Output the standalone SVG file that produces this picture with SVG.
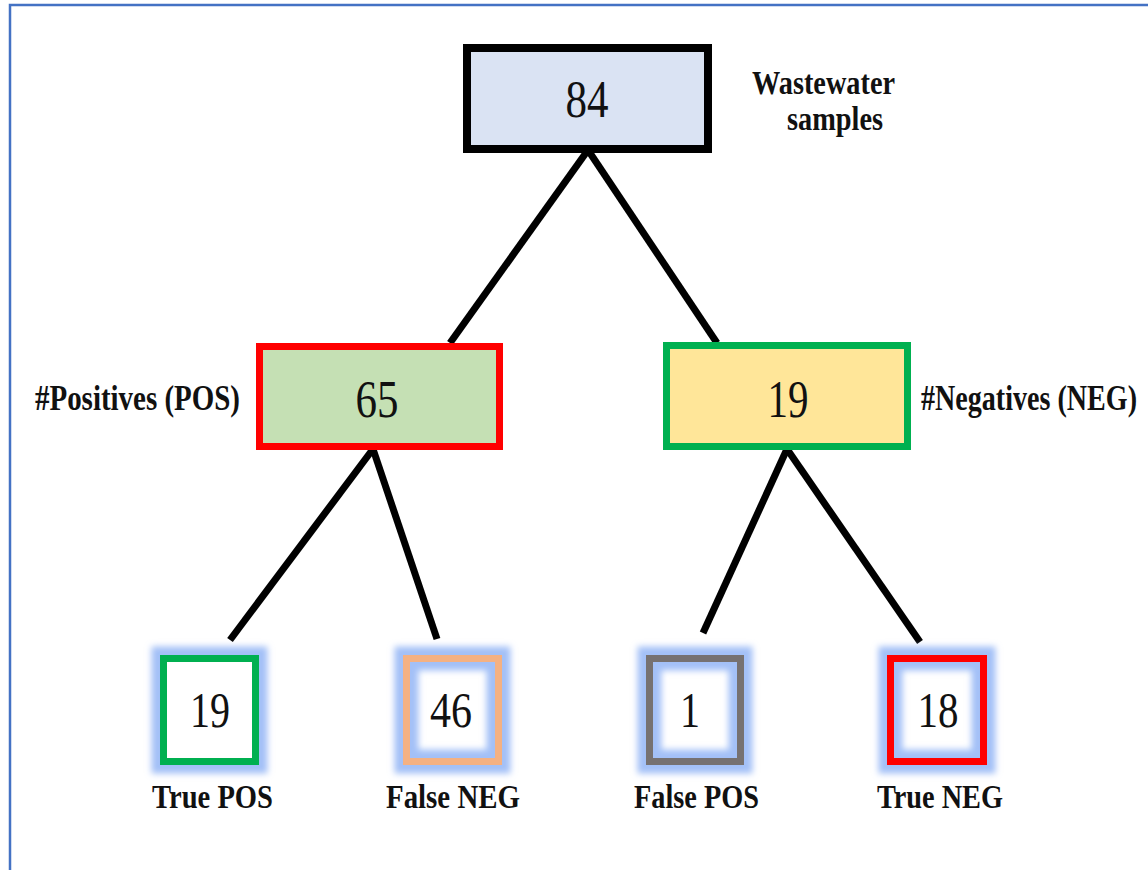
<svg xmlns="http://www.w3.org/2000/svg" width="1148" height="870" viewBox="0 0 1148 870">
  <defs>
    <filter id="glow" x="-30%" y="-30%" width="160%" height="160%">
      <feGaussianBlur stdDeviation="3"/>
    </filter>
    <style>
      .num { font-family: "Liberation Serif", "Times New Roman", serif; fill: #111; text-anchor: middle; }
      .lbl { font-family: "Liberation Serif", "Times New Roman", serif; font-weight: bold; fill: #111; }
      .conn { stroke: #000; stroke-width: 7; fill: none; stroke-linecap: butt; }
      .halo { fill: none; stroke: #a3c0f7; stroke-width: 24; filter: url(#glow); }
    </style>
  </defs>
  <rect width="1148" height="870" fill="#fff"/>
  <path d="M10,870 V5 H1148" fill="none" stroke="#4472C4" stroke-width="2.5"/>

  <g id="connectors">
    <line class="conn" x1="588" y1="150" x2="450" y2="343"/>
    <line class="conn" x1="588" y1="150" x2="717" y2="343"/>
    <line class="conn" x1="373" y1="449" x2="230" y2="640"/>
    <line class="conn" x1="373" y1="449" x2="437" y2="639"/>
    <line class="conn" x1="787" y1="449" x2="703" y2="633"/>
    <line class="conn" x1="787" y1="449" x2="920" y2="642"/>
  </g>

  <g id="node-total">
    <rect x="467" y="48" width="241" height="101" fill="#DAE3F3" stroke="#000" stroke-width="8"/>
    <text class="num" x="587" y="117" font-size="52" textLength="43" lengthAdjust="spacingAndGlyphs">84</text>
    <text class="lbl" x="752" y="94" font-size="34" textLength="143" lengthAdjust="spacingAndGlyphs">Wastewater</text>
    <text class="lbl" x="787" y="130" font-size="34" textLength="96" lengthAdjust="spacingAndGlyphs">samples</text>
  </g>

  <g id="node-pos">
    <rect x="259.5" y="346.5" width="240" height="100" fill="#C5E0B4" stroke="#FF0000" stroke-width="7"/>
    <text class="num" x="377" y="417" font-size="53" textLength="43" lengthAdjust="spacingAndGlyphs">65</text>
    <text class="lbl" x="35" y="410" font-size="35" textLength="205" lengthAdjust="spacingAndGlyphs">#Positives (POS)</text>
  </g>

  <g id="node-neg">
    <rect x="666.5" y="345.5" width="241" height="101" fill="#FFE699" stroke="#00B050" stroke-width="7"/>
    <text class="num" x="788" y="417" font-size="53" textLength="41" lengthAdjust="spacingAndGlyphs">19</text>
    <text class="lbl" transform="translate(921,410) scale(0.8,1)" x="0" y="0" font-size="35" textLength="270" lengthAdjust="spacingAndGlyphs">#Negatives (NEG)</text>
  </g>

  <g id="node-true-pos">
    <rect class="halo" x="163.5" y="658.5" width="92" height="103"/>
    <rect x="163.5" y="658.5" width="92" height="103" fill="#fff" stroke="#00B050" stroke-width="7"/>
    <text class="num" x="210" y="727" font-size="50" textLength="40" lengthAdjust="spacingAndGlyphs">19</text>
    <text class="lbl" x="152" y="808" font-size="34" textLength="121" lengthAdjust="spacingAndGlyphs">True POS</text>
  </g>

  <g id="node-false-neg">
    <rect x="406.5" y="658.5" width="92" height="103" fill="#fff"/>
    <rect class="halo" x="406.5" y="658.5" width="92" height="103"/>
    <rect x="406.5" y="658.5" width="92" height="103" fill="none" stroke="#F4B183" stroke-width="7"/>
    <text class="num" x="451" y="727" font-size="50" textLength="42" lengthAdjust="spacingAndGlyphs">46</text>
    <text class="lbl" x="386" y="808" font-size="34" textLength="134" lengthAdjust="spacingAndGlyphs">False NEG</text>
  </g>

  <g id="node-false-pos">
    <rect x="649.5" y="658.5" width="91" height="103" fill="#fff"/>
    <rect class="halo" x="649.5" y="658.5" width="91" height="103"/>
    <rect x="649.5" y="658.5" width="91" height="103" fill="none" stroke="#767171" stroke-width="7"/>
    <text class="num" x="690" y="727" font-size="50" textLength="20" lengthAdjust="spacingAndGlyphs">1</text>
    <text class="lbl" x="634" y="808" font-size="34" textLength="125" lengthAdjust="spacingAndGlyphs">False POS</text>
  </g>

  <g id="node-true-neg">
    <rect x="890.5" y="658.5" width="93" height="103" fill="#fff"/>
    <rect class="halo" x="890.5" y="658.5" width="93" height="103"/>
    <rect x="890.5" y="658.5" width="93" height="103" fill="none" stroke="#FF0000" stroke-width="7"/>
    <text class="num" x="938" y="727" font-size="50" textLength="41" lengthAdjust="spacingAndGlyphs">18</text>
    <text class="lbl" x="877" y="808" font-size="34" textLength="126" lengthAdjust="spacingAndGlyphs">True NEG</text>
  </g>
</svg>
